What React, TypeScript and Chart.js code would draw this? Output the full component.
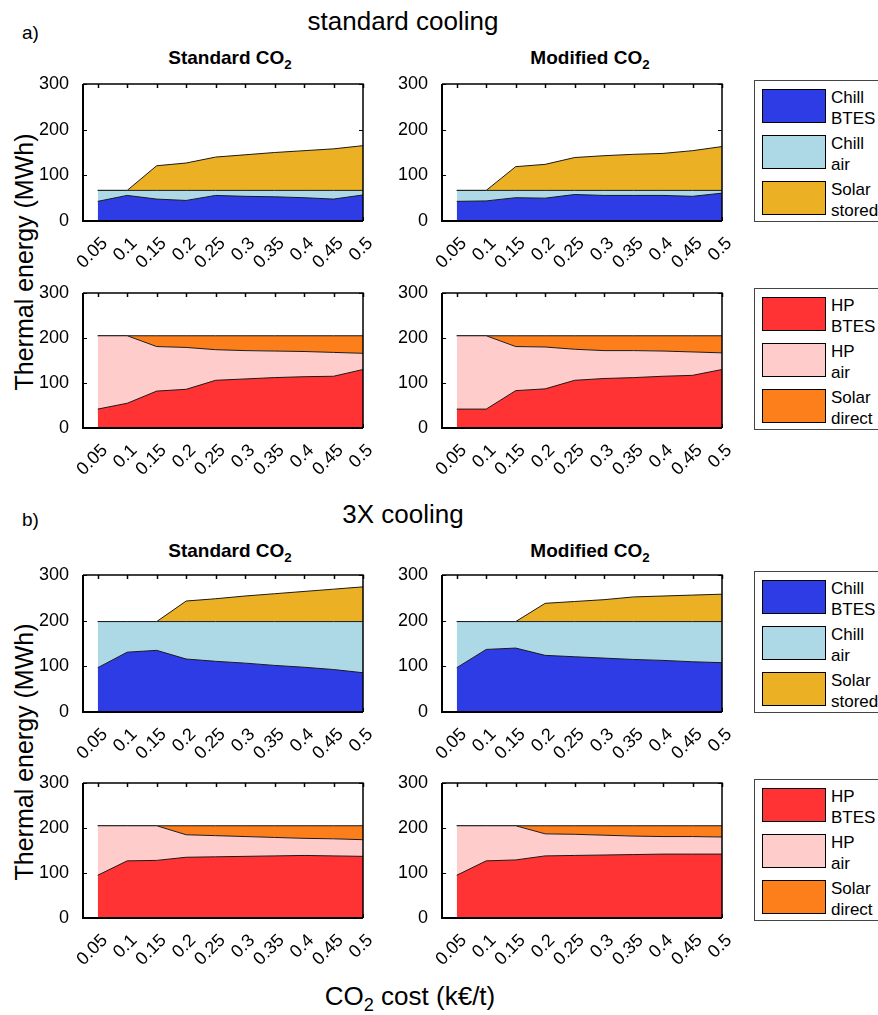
import React, { useEffect, useRef } from "react";
import { Chart, registerables } from "chart.js";
Chart.register(...registerables);

// ---------- data ----------
const co2Cost = [0.05, 0.1, 0.15, 0.2, 0.25, 0.3, 0.35, 0.4, 0.45, 0.5];
const xTickLabels = ["0.05", "0.1", "0.15", "0.2", "0.25", "0.3", "0.35", "0.4", "0.45", "0.5"];
const yTicks = [0, 100, 200, 300];

const coolingLabels = ["Chill\nBTES", "Chill\nair", "Solar\nstored"];
const heatingLabels = ["HP\nBTES", "HP\nair", "Solar\ndirect"];

// a) standard cooling — Standard CO2
const aStdChillBTES = [43, 56, 48, 45, 56, 54, 53, 51, 48, 57];
const aStdChillAir = [24, 11, 19, 22, 11, 13, 14, 16, 19, 10];
const aStdSolarStored = [0, 0, 54, 60, 73, 78, 83, 87, 91, 98];
const aStdHPBTES = [42, 55, 82, 86, 106, 109, 112, 114, 115, 130];
const aStdHPAir = [163, 150, 99, 93, 68, 63, 59, 56, 53, 36];
const aStdSolarDirect = [0, 0, 24, 26, 31, 33, 34, 35, 37, 39];

// a) standard cooling — Modified CO2
const aModChillBTES = [43, 44, 51, 50, 58, 56, 56, 56, 54, 61];
const aModChillAir = [24, 23, 16, 17, 9, 11, 11, 11, 13, 6];
const aModSolarStored = [0, 0, 52, 57, 72, 76, 79, 81, 87, 96];
const aModHPBTES = [42, 42, 83, 87, 106, 110, 112, 115, 117, 130];
const aModHPAir = [163, 163, 98, 93, 69, 62, 60, 56, 52, 37];
const aModSolarDirect = [0, 0, 24, 25, 30, 33, 33, 34, 36, 38];

// b) 3X cooling — Standard CO2
const bStdChillBTES = [97, 131, 135, 116, 111, 107, 102, 98, 93, 86];
const bStdChillAir = [101, 67, 63, 82, 87, 91, 96, 100, 105, 112];
const bStdSolarStored = [0, 0, 0, 45, 50, 56, 61, 66, 71, 76];
const bStdHPBTES = [95, 127, 128, 135, 136, 137, 138, 139, 138, 137];
const bStdHPAir = [110, 78, 77, 50, 47, 44, 41, 38, 38, 37];
const bStdSolarDirect = [0, 0, 0, 20, 22, 24, 26, 28, 29, 31];

// b) 3X cooling — Modified CO2
const bModChillBTES = [97, 137, 140, 124, 121, 118, 115, 113, 110, 108];
const bModChillAir = [101, 61, 58, 74, 77, 80, 83, 85, 88, 90];
const bModSolarStored = [0, 0, 0, 40, 44, 48, 54, 56, 58, 60];
const bModHPBTES = [95, 127, 129, 138, 139, 140, 141, 142, 142, 142];
const bModHPAir = [110, 78, 76, 49, 47, 44, 41, 39, 39, 38];
const bModSolarDirect = [0, 0, 0, 18, 19, 21, 23, 24, 24, 25];

// ---------- styles ----------
const coolingColors = ["#2e3ce6", "#add8e6", "#ebb023"];
const heatingColors = ["#ff3333", "#ffcccc", "#fd7f1c"];
const FONT = "'Liberation Sans', Arial, Helvetica, sans-serif";

const YW = 60; // y-axis area width
const PT = 12; // top padding
const PR = 24; // right padding
const XH = 62; // x-axis area height

const boxPlugin = {
  id: "matlabBox",
  beforeDatasetsDraw(chart: any) {
    const { ctx, chartArea: a, scales } = chart;
    ctx.save();
    ctx.strokeStyle = "#000";
    ctx.lineWidth = 1;
    const tl = 4;
    for (const v of co2Cost) {
      const x = Math.round(scales.x.getPixelForValue(v)) + 0.5;
      ctx.beginPath();
      ctx.moveTo(x, a.bottom);
      ctx.lineTo(x, a.bottom - tl);
      ctx.stroke();
    }
    for (const v of yTicks) {
      const y = Math.round(scales.y.getPixelForValue(v)) + 0.5;
      ctx.beginPath();
      ctx.moveTo(a.left, y);
      ctx.lineTo(a.left + tl, y);
      ctx.moveTo(a.right, y);
      ctx.lineTo(a.right - tl, y);
      ctx.stroke();
    }
    ctx.restore();
  },
  afterDatasetsDraw(chart: any) {
    const { ctx, chartArea: a, scales } = chart;
    ctx.save();
    ctx.strokeStyle = "#000";
    const tl = 4;
    ctx.lineWidth = 1.5;
    for (const v of co2Cost) {
      const x = Math.round(scales.x.getPixelForValue(v)) + 0.5;
      ctx.beginPath();
      ctx.moveTo(x, a.top);
      ctx.lineTo(x, a.top + tl);
      ctx.stroke();
    }
    ctx.beginPath();
    ctx.moveTo(a.left, a.top);
    ctx.lineTo(a.right, a.top);
    ctx.lineTo(a.right, a.bottom);
    ctx.stroke();
    ctx.lineWidth = 2;
    ctx.beginPath();
    ctx.moveTo(a.left, a.top);
    ctx.lineTo(a.left, a.bottom);
    ctx.lineTo(a.right, a.bottom);
    ctx.stroke();
    ctx.restore();
  },
};

type PanelProps = {
  left: number;
  top: number;
  width: number;
  height: number;
  series: number[][];
  labels: string[];
  colors: string[];
};

function Panel({ left, top, width, height, series, labels, colors }: PanelProps) {
  const ref = useRef<HTMLCanvasElement>(null);
  const cw = YW + width + PR;
  const ch = PT + height + XH;
  useEffect(() => {
    if (!ref.current) return;
    const tickFont = { family: FONT, size: 18 };
    const chart = new Chart(ref.current, {
      type: "line",
      data: {
        datasets: series.map((vals, i) => ({
          label: labels[i],
          data: co2Cost.map((x, j) => ({ x, y: vals[j] })),
          backgroundColor: colors[i],
          borderColor: "#1a1a1a",
          borderWidth: 1,
          pointRadius: 0,
          tension: 0,
          fill: i === 0 ? "origin" : "-1",
        })),
      },
      options: {
        animation: false,
        responsive: false,
        maintainAspectRatio: false,
        layout: { padding: { top: PT, right: PR, left: 0, bottom: 0 } },
        plugins: { legend: { display: false }, tooltip: { enabled: false } },
        scales: {
          x: {
            type: "linear",
            min: 0.025,
            max: 0.5,
            afterBuildTicks: (s: any) => {
              s.ticks = co2Cost.map((v) => ({ value: v }));
            },
            afterFit: (s: any) => {
              s.height = XH;
              s.paddingLeft = 0;
              s.paddingRight = 0;
            },
            ticks: {
              autoSkip: false,
              maxRotation: 45,
              minRotation: 45,
              padding: 4,
              labelOffset: 7,
              color: "#000",
              font: tickFont,
              callback: (_v: any, i: number) => xTickLabels[i],
            },
            grid: { display: false },
            border: { display: false },
          },
          y: {
            stacked: true,
            min: 0,
            max: 300,
            afterBuildTicks: (s: any) => {
              s.ticks = yTicks.map((v) => ({ value: v }));
            },
            afterFit: (s: any) => {
              s.width = YW;
              s.paddingTop = 0;
              s.paddingBottom = 0;
            },
            ticks: { padding: 6, color: "#000", font: tickFont },
            grid: { display: false },
            border: { display: false },
          },
        },
      },
      plugins: [boxPlugin],
    } as any);
    return () => chart.destroy();
  }, []);
  return (
    <canvas
      ref={ref}
      width={cw}
      height={ch}
      style={{ position: "absolute", left: left - YW, top: top - PT, width: cw, height: ch }}
    />
  );
}

function Legend({ left, top, labels, colors }: { left: number; top: number; labels: string[]; colors: string[] }) {
  return (
    <div
      style={{
        position: "absolute",
        left,
        top,
        width: 140,
        height: 142,
        border: "1px solid #444",
        background: "#fff",
        boxSizing: "border-box",
      }}
    >
      {labels.map((lab, i) => (
        <React.Fragment key={i}>
          <div
            style={{
              position: "absolute",
              left: 7,
              top: 8 + i * 46,
              width: 64,
              height: 34,
              background: colors[i],
              border: "1px solid #000",
              boxSizing: "border-box",
            }}
          />
          <div
            style={{
              position: "absolute",
              left: 76,
              top: 6 + i * 46,
              fontSize: 17,
              lineHeight: "21px",
              whiteSpace: "pre",
              color: "#000",
            }}
          >
            {lab}
          </div>
        </React.Fragment>
      ))}
    </div>
  );
}

function Text({ x, y, size, bold, children }: any) {
  return (
    <div
      style={{
        position: "absolute",
        left: x,
        top: y,
        transform: "translate(-50%, -50%)",
        fontSize: size,
        fontWeight: bold ? "bold" : "normal",
        whiteSpace: "nowrap",
        color: "#000",
        lineHeight: 1,
      }}
    >
      {children}
    </div>
  );
}

const Sub = ({ children }: any) => (
  <span style={{ fontSize: "0.7em", position: "relative", top: "0.35em" }}>{children}</span>
);

function YLabel({ y }: { y: number }) {
  return (
    <div
      style={{
        position: "absolute",
        left: 24,
        top: y,
        transform: "translate(-50%, -50%) rotate(-90deg)",
        fontSize: 25,
        whiteSpace: "nowrap",
        lineHeight: 1,
      }}
    >
      Thermal energy (MWh)
    </div>
  );
}

export default function App() {
  const L1 = 83;
  const L2 = 442;
  const W = 280;
  const rows = [
    { top: 84, h: 137 },
    { top: 293, h: 135 },
    { top: 575, h: 137 },
    { top: 783, h: 135 },
  ];
  return (
    <div
      style={{
        position: "fixed",
        left: 0,
        top: 0,
        width: 878,
        height: 1015,
        overflow: "hidden",
        background: "#fff",
        fontFamily: FONT,
      }}
    >
      <Text x={403} y={21} size={26}>standard cooling</Text>
      <div style={{ position: "absolute", left: 22, top: 23, fontSize: 19, lineHeight: 1 }}>a)</div>
      <Text x={230} y={57} size={19} bold>
        Standard CO<Sub>2</Sub>
      </Text>
      <Text x={590} y={57} size={19} bold>
        Modified CO<Sub>2</Sub>
      </Text>

      <Text x={403} y={514} size={26}>3X cooling</Text>
      <div style={{ position: "absolute", left: 22, top: 510, fontSize: 19, lineHeight: 1 }}>b)</div>
      <Text x={230} y={550} size={19} bold>
        Standard CO<Sub>2</Sub>
      </Text>
      <Text x={590} y={550} size={19} bold>
        Modified CO<Sub>2</Sub>
      </Text>

      <YLabel y={262} />
      <YLabel y={752} />
      <Text x={410} y={996} size={26}>
        CO<Sub>2</Sub> cost (k€/t)
      </Text>

      <Panel left={L1} top={rows[0].top} width={W} height={rows[0].h}
        series={[aStdChillBTES, aStdChillAir, aStdSolarStored]} labels={coolingLabels} colors={coolingColors} />
      <Panel left={L2} top={rows[0].top} width={W} height={rows[0].h}
        series={[aModChillBTES, aModChillAir, aModSolarStored]} labels={coolingLabels} colors={coolingColors} />
      <Panel left={L1} top={rows[1].top} width={W} height={rows[1].h}
        series={[aStdHPBTES, aStdHPAir, aStdSolarDirect]} labels={heatingLabels} colors={heatingColors} />
      <Panel left={L2} top={rows[1].top} width={W} height={rows[1].h}
        series={[aModHPBTES, aModHPAir, aModSolarDirect]} labels={heatingLabels} colors={heatingColors} />
      <Panel left={L1} top={rows[2].top} width={W} height={rows[2].h}
        series={[bStdChillBTES, bStdChillAir, bStdSolarStored]} labels={coolingLabels} colors={coolingColors} />
      <Panel left={L2} top={rows[2].top} width={W} height={rows[2].h}
        series={[bModChillBTES, bModChillAir, bModSolarStored]} labels={coolingLabels} colors={coolingColors} />
      <Panel left={L1} top={rows[3].top} width={W} height={rows[3].h}
        series={[bStdHPBTES, bStdHPAir, bStdSolarDirect]} labels={heatingLabels} colors={heatingColors} />
      <Panel left={L2} top={rows[3].top} width={W} height={rows[3].h}
        series={[bModHPBTES, bModHPAir, bModSolarDirect]} labels={heatingLabels} colors={heatingColors} />

      <Legend left={754} top={80} labels={coolingLabels} colors={coolingColors} />
      <Legend left={754} top={288} labels={heatingLabels} colors={heatingColors} />
      <Legend left={754} top={571} labels={coolingLabels} colors={coolingColors} />
      <Legend left={754} top={779} labels={heatingLabels} colors={heatingColors} />
    </div>
  );
}
